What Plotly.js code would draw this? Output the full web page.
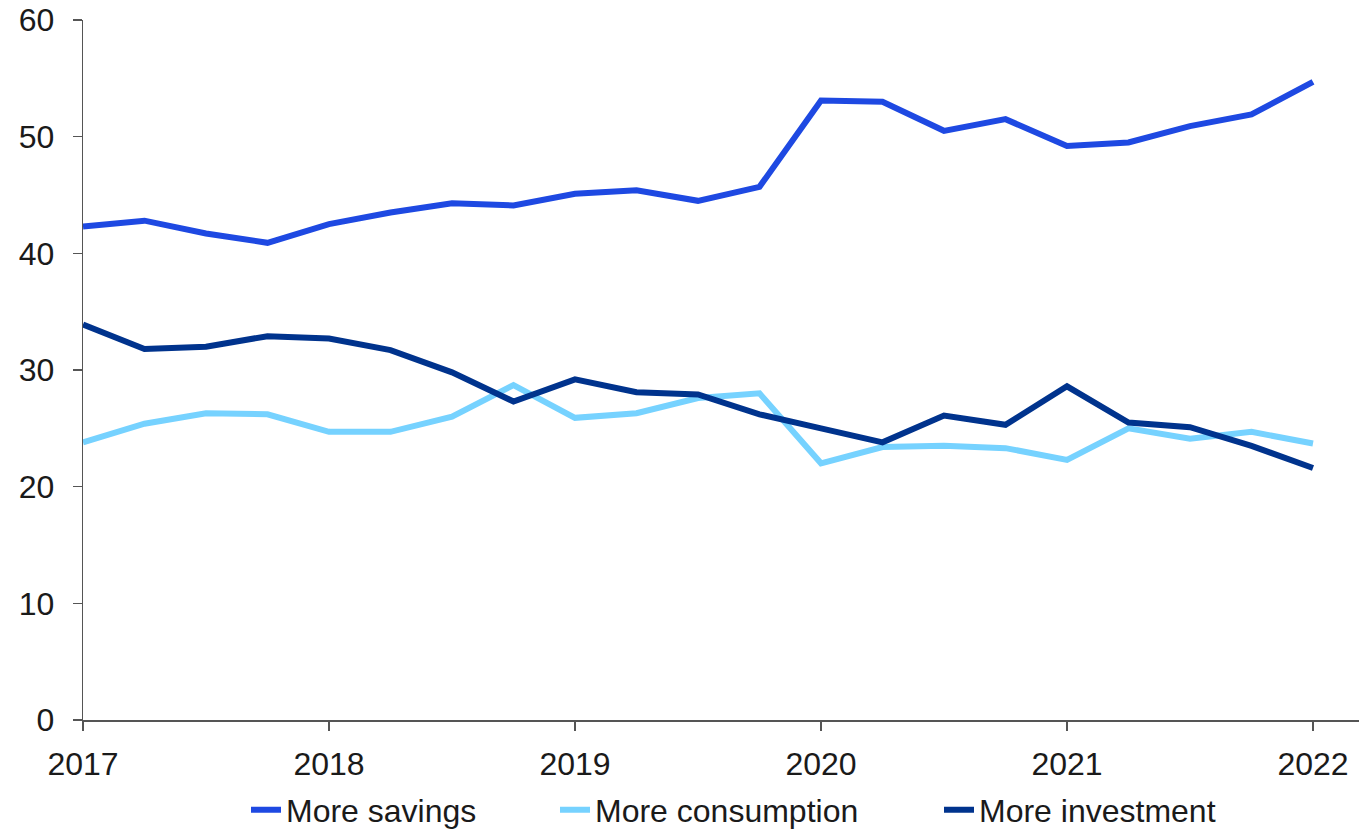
<!DOCTYPE html>
<html>
<head>
<meta charset="utf-8">
<script src="https://cdn.plot.ly/plotly-3.0.1.min.js"></script>
<style>html,body{margin:0;padding:0;background:#fff;}#chart{width:1359px;height:829px;}</style>
</head>
<body>
<div id="chart"></div>
<script>
const quarters = [2017, 2017.25, 2017.5, 2017.75, 2018, 2018.25, 2018.5, 2018.75, 2019, 2019.25, 2019.5, 2019.75,
                  2020, 2020.25, 2020.5, 2020.75, 2021, 2021.25, 2021.5, 2021.75, 2022];
const moreSavings = [42.3, 42.8, 41.7, 40.9, 42.5, 43.5, 44.3, 44.1, 45.1, 45.4, 44.5, 45.7,
                     53.1, 53.0, 50.5, 51.5, 49.2, 49.5, 50.9, 51.9, 54.7];
const moreConsumption = [23.8, 25.4, 26.3, 26.2, 24.7, 24.7, 26.0, 28.7, 25.9, 26.3, 27.6, 28.0,
                         22.0, 23.4, 23.5, 23.3, 22.3, 25.0, 24.1, 24.7, 23.7];
const moreInvestment = [33.9, 31.8, 32.0, 32.9, 32.7, 31.7, 29.8, 27.3, 29.2, 28.1, 27.9, 26.2,
                        25.0, 23.8, 26.1, 25.3, 28.6, 25.5, 25.1, 23.5, 21.6];
const yearTicks = [2017, 2018, 2019, 2020, 2021, 2022];
const yearLabels = ['2017', '2018', '2019', '2020', '2021', '2022'];
const seriesNames = ['More savings', 'More consumption', 'More investment'];

const font = {family: '"Liberation Sans", Arial, sans-serif', size: 32, color: '#1a1a1a'};

const traces = [
  {x: quarters, y: moreSavings, name: seriesNames[0], type: 'scatter', mode: 'lines',
   line: {color: '#1E49E2', width: 6}, legend: 'legend'},
  {x: quarters, y: moreConsumption, name: seriesNames[1], type: 'scatter', mode: 'lines',
   line: {color: '#76D2FF', width: 6}, legend: 'legend2'},
  {x: quarters, y: moreInvestment, name: seriesNames[2], type: 'scatter', mode: 'lines',
   line: {color: '#00338D', width: 6}, legend: 'legend3'}
];

const plotLeft = 83, plotWidth = 1276, plotBottom = 720, plotHeight = 700;
function legendAt(px, py) {
  return {orientation: 'h', x: (px - plotLeft) / plotWidth, xanchor: 'left',
          y: -(py - plotBottom) / plotHeight, yanchor: 'middle', font: font,
          bgcolor: 'rgba(0,0,0,0)', borderwidth: 0};
}

const layout = {
  width: 1359, height: 829,
  margin: {l: 83, r: 0, t: 20, b: 109, autoexpand: false},
  paper_bgcolor: '#fff', plot_bgcolor: '#fff',
  font: font,
  showlegend: true,
  legend: legendAt(246, 810),
  legend2: legendAt(555, 810),
  legend3: legendAt(939, 810),
  xaxis: {range: [2017, 2022.187], tickvals: yearTicks, ticktext: yearLabels,
          showgrid: false, zeroline: false, showline: true, linecolor: '#555', linewidth: 1.5,
          ticks: 'outside', ticklen: 9, tickcolor: '#555', tickwidth: 1.2,
          ticklabelstandoff: 6, tickfont: font, fixedrange: true},
  yaxis: {range: [0, 60], tickvals: [0, 10, 20, 30, 40, 50, 60],
          showgrid: false, zeroline: false, showline: true, linecolor: '#555', linewidth: 1.2,
          ticks: 'outside', ticklen: 9, tickcolor: '#555', tickwidth: 1.2,
          ticklabelstandoff: 12, tickfont: font, fixedrange: true}
};

Plotly.newPlot('chart', traces, layout, {displayModeBar: false, staticPlot: true});
</script>
</body>
</html>
